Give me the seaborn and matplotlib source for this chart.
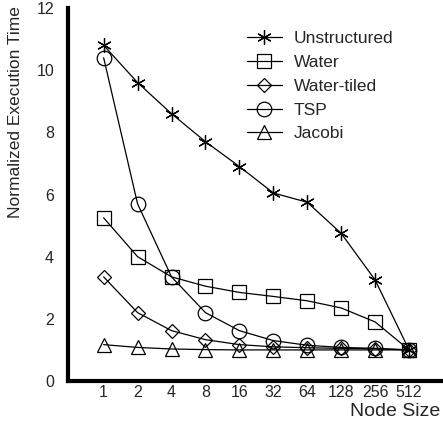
import matplotlib
matplotlib.use("Agg")
import matplotlib.pyplot as plt
import seaborn as sns
import pandas as pd

node_sizes = ["1", "2", "4", "8", "16", "32", "64", "128", "256", "512"]
unstructured = [10.8, 9.6, 8.6, 7.7, 6.9, 6.05, 5.75, 4.75, 3.25, 1.0]
water = [5.25, 4.0, 3.35, 3.05, 2.85, 2.72, 2.58, 2.35, 1.9, 1.0]
water_tiled = [3.35, 2.2, 1.62, 1.33, 1.17, 1.1, 1.07, 1.05, 1.04, 1.0]
tsp = [10.4, 5.7, 3.35, 2.2, 1.62, 1.3, 1.15, 1.08, 1.05, 1.0]
jacobi = [1.17, 1.08, 1.03, 1.01, 1.0, 1.0, 1.0, 1.0, 1.0, 1.0]
series_names = ["Unstructured", "Water", "Water-tiled", "TSP", "Jacobi"]
y_ticks = [0, 2, 4, 6, 8, 10, 12]

sns.set_style("white")
plt.rcParams['font.family'] = ['Liberation Sans', 'DejaVu Sans']

rows = []
for name, vals in zip(series_names, [unstructured, water, water_tiled, tsp, jacobi]):
    for i, v in enumerate(vals):
        rows.append({"series": name, "idx": i, "value": v})
df = pd.DataFrame(rows)

markers = {"Unstructured": (6, 2, 0), "Water": "s", "Water-tiled": "D",
           "TSP": "o", "Jacobi": "^"}
sizes = {"Unstructured": 10.5, "Water": 10, "Water-tiled": 7.5, "TSP": 10.5, "Jacobi": 10.5}

fig = plt.figure(figsize=(4.43, 4.24), dpi=100)
ax = fig.add_axes([68/443, 1 - 381/424, 374/443, 373/424])

for name in series_names:
    sub = df[df["series"] == name]
    sns.lineplot(data=sub, x="idx", y="value", ax=ax, color="black", lw=0.9,
                 marker=markers[name], markersize=sizes[name],
                 markerfacecolor="none", markeredgecolor="black",
                 markeredgewidth=0.9, label=name)

ax.set_xlim(-1.05, 9.97)
ax.set_ylim(0, 12)
ax.set_xticks(range(len(node_sizes)))
ax.set_xticklabels(node_sizes)
ax.set_yticks(y_ticks)
ax.set_yticklabels([str(t) for t in y_ticks])
ax.tick_params(axis="both", length=0, labelsize=11.5)
ax.tick_params(axis="x", pad=3)
ax.tick_params(axis="y", pad=10)
for s in ["top", "right"]:
    ax.spines[s].set_visible(False)
for s in ["left", "bottom"]:
    ax.spines[s].set_linewidth(3)
    ax.spines[s].set_color("black")
ax.set_xlabel("")
ax.set_ylabel("")
fig.text(16/443, 1 - 112/424, "Normalized Execution Time", fontsize=12.5,
         rotation=90, ha="center", va="center")
fig.text(440/443, 1 - 411/424, "Node Size", fontsize=14, ha="right", va="center")

leg = ax.legend(loc="upper left", bbox_to_anchor=(172/374, 1 - 16/373), frameon=False,
                fontsize=12.5, handlelength=2.0, labelspacing=0.5, handletextpad=0.7,
                borderaxespad=0)
fig.savefig("out.png", dpi=100)
